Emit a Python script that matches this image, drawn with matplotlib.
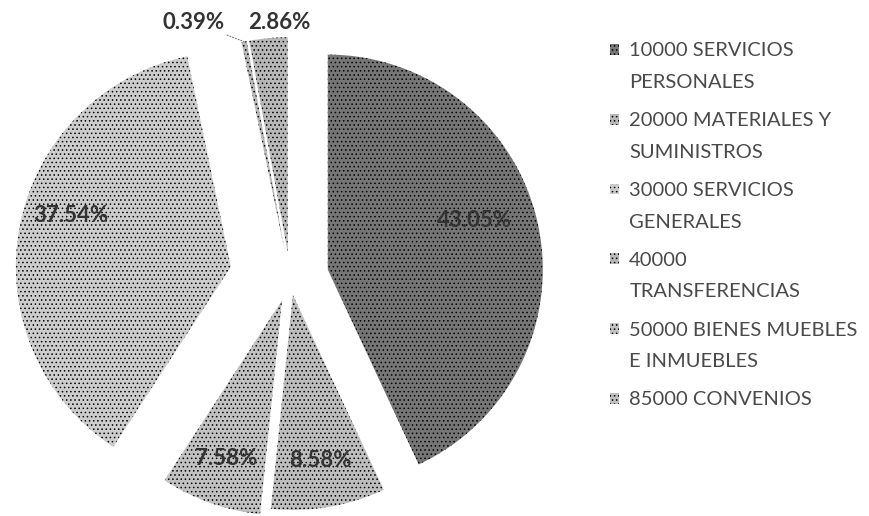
import matplotlib
matplotlib.use("Agg")
import matplotlib.pyplot as plt
import matplotlib.patches as mpatches
from matplotlib.legend_handler import HandlerPatch
import numpy as np

""" data read off the scanned chart """
categories = [
  "10000 SERVICIOS\nPERSONALES",
  "20000 MATERIALES Y\nSUMINISTROS",
  "30000 SERVICIOS\nGENERALES",
  "40000\nTRANSFERENCIAS",
  "50000 BIENES MUEBLES\nE INMUEBLES",
  "85000 CONVENIOS",
]
# pie order, clockwise from 12 o'clock
slice_names = ["10000", "85000", "50000", "30000", "20000", "40000"]
slice_values = [43.05, 8.58, 7.58, 37.54, 0.39, 2.86]

""" styling """
face = ["#767676", "#bebebe", "#c2c2c2", "#cdcdcd", "#b8b8b8", "#b8b8b8"]
hatchc = ["#4e4e4e", "#8a8a8a", "#8e8e8e", "#9a9a9a", "#888888", "#888888"]
explode = [0.18, 0.08, 0.11, 0.28, 0.12, 0.12]
label_font = "Lato"
legend_linespacing = 2.05

plt.rcParams["hatch.linewidth"] = 0.6

fig = plt.figure(figsize=(8.7, 5.16), dpi=100)
ax = fig.add_axes([0, 0, 580 / 870, 1])

wedges, texts, autotexts = ax.pie(
  slice_values,
  explode=explode,
  startangle=90,
  counterclock=False,
  colors=face,
  autopct="%.2f%%",
  pctdistance=0.78,
  wedgeprops=dict(linewidth=0),
  textprops=dict(fontfamily=label_font, fontweight="bold", fontsize=16, color="#333333"),
)
for w, hc in zip(wedges, hatchc):
  w.set_hatch("....")
  if hasattr(w, "set_hatchcolor"):
    w.set_hatchcolor(hc)

""" pixel based limits: R = 215 px, centre at (290, 278) """
ax.set_aspect("auto")
ax.set_xlim(-290 / 215, 290 / 215)
ax.set_ylim(-238 / 215, 278 / 215)

def wedge_point(w, r, dang=0.0):
  ang = np.deg2rad((w.theta1 + w.theta2) / 2 + dang)
  cx, cy = w.center
  return cx + r * np.cos(ang), cy + r * np.sin(ang)

""" nudge the big labels a bit like the original """
autotexts[0].set_position(wedge_point(wedges[0], 0.72, 6))
autotexts[3].set_position(wedge_point(wedges[3], 0.78, -7))

""" the two small slices get their labels outside """
autotexts[4].set_visible(False)
ax.annotate(autotexts[4].get_text(), xy=wedge_point(wedges[4], 1.0), xytext=(-0.45, 1.19),
  ha="center", va="center", fontfamily=label_font, fontweight="bold", fontsize=16, color="#333333",
  arrowprops=dict(arrowstyle="-", color="#777777", lw=0.8, ls=":", shrinkA=14, shrinkB=0))
autotexts[5].set_position((-0.05, 1.19))

""" legend on the right, marker next to the first line of each entry """
def make_square(nlines):
  def square(legend, orig_handle, xdescent, ydescent, width, height, fontsize):
    shift = (nlines - 1) * 0.5 * legend_linespacing * fontsize * 0.82
    return mpatches.Rectangle((-xdescent, -ydescent + shift), width, height)
  return square

handles = [wedges[slice_names.index(c.split()[0])] for c in categories]
hmap = {h: HandlerPatch(patch_func=make_square(c.count("\n") + 1)) for h, c in zip(handles, categories)}

leg = fig.legend(
  handles,
  categories,
  handler_map=hmap,
  loc="upper left",
  bbox_to_anchor=(592 / 870, 1 - 24 / 516),
  frameon=False,
  handlelength=0.45,
  handleheight=0.45,
  handletextpad=0.5,
  labelspacing=1.05,
  prop=dict(family=label_font, size=14.5),
  labelcolor="#4a4a4a",
)
for t in leg.get_texts():
  t.set_linespacing(legend_linespacing)

plt.savefig("out.png", dpi=100)
plt.close()
